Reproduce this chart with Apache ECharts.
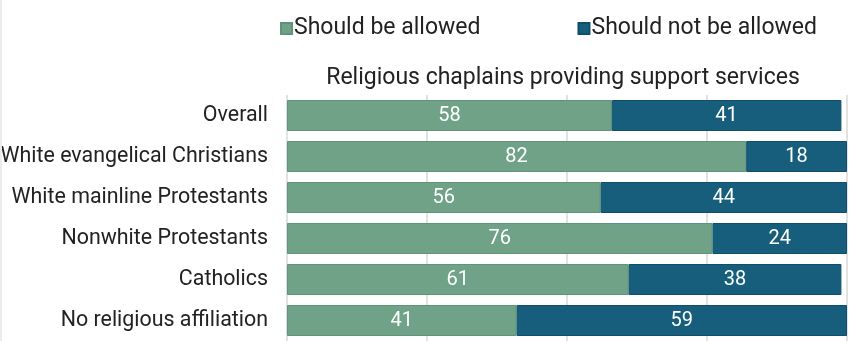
<!DOCTYPE html>
<html>
<head>
<meta charset="utf-8">
<script src="https://cdn.jsdelivr.net/npm/echarts@6/dist/echarts.min.js"></script>
<style>
  html, body { margin: 0; padding: 0; background: #fff; }
  #chart { width: 851px; height: 341px; border-left: 2px solid #ececec; box-sizing: border-box; }
</style>
</head>
<body>
<div id="chart"></div>
<script>
// Survey groups, top to bottom
const categories = [
  'Overall',
  'White evangelical Christians',
  'White mainline Protestants',
  'Nonwhite Protestants',
  'Catholics',
  'No religious affiliation'
];
const allowed    = [58, 82, 56, 76, 61, 41];
const notAllowed = [41, 18, 44, 24, 38, 59];
const seriesNames = ['Should be allowed', 'Should not be allowed'];
const titleText = 'Religious chaplains providing support services';

const GREEN = '#6fa286';
const BLUE = '#175e7c';
const FONT = 'Roboto';

const chart = echarts.init(document.getElementById('chart'), null, { renderer: 'canvas' });

const labelStyle = {
  show: true,
  position: 'inside',
  color: '#ffffff',
  fontFamily: FONT,
  fontSize: 20
};

chart.setOption({
  animation: false,
  textStyle: { fontFamily: FONT },
  title: {
    text: titleText,
    left: 556,
    textAlign: 'center',
    top: 62,
    textStyle: { fontFamily: FONT, fontSize: 23, fontWeight: 'normal', color: '#222' }
  },
  legend: {
    data: seriesNames,
    left: 273,
    top: 12,
    itemWidth: 11,
    itemHeight: 11,
    itemGap: 97,
    icon: 'rect',
    textStyle: { fontFamily: FONT, fontSize: 23, color: '#222', padding: [0, 0, 0, -3] }
  },
  grid: { left: 285, right: 4, top: 95, bottom: 0, containLabel: false, outerBoundsMode: 'none' },
  xAxis: {
    type: 'value',
    min: 0,
    max: 100,
    interval: 25,
    axisLabel: { show: false },
    axisLine: { show: false },
    axisTick: { show: false },
    splitLine: { show: true, lineStyle: { color: '#d9d9d9', width: 1.5 } }
  },
  yAxis: {
    type: 'category',
    data: categories,
    inverse: true,
    axisLine: { show: false },
    axisTick: { show: false },
    axisLabel: { fontFamily: FONT, fontSize: 21.4, color: '#222', margin: 19 }
  },
  series: [
    {
      name: seriesNames[0],
      type: 'bar',
      stack: 'total',
      data: allowed,
      barWidth: 31,
      itemStyle: { color: GREEN, borderColor: '#5f9478', borderWidth: 1 },
      label: labelStyle
    },
    {
      name: seriesNames[1],
      type: 'bar',
      stack: 'total',
      data: notAllowed,
      barWidth: 31,
      itemStyle: { color: BLUE, borderColor: '#0f4f6b', borderWidth: 1 },
      label: labelStyle
    }
  ]
});
</script>
</body>
</html>
